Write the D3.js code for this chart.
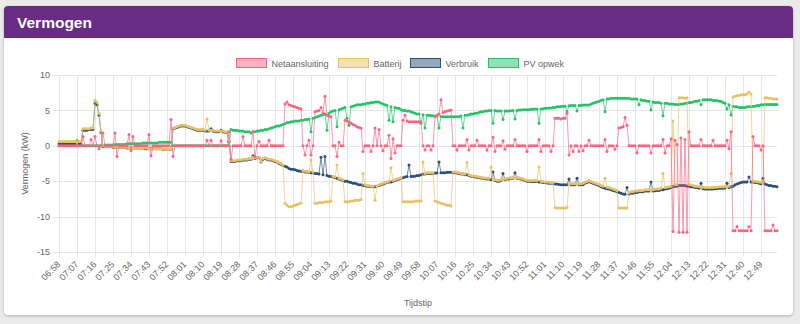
<!DOCTYPE html>
<html>
  <head>
    <meta charset="utf-8" />
    <title>Vermogen</title>
    <style>
      body {
        margin: 0;
        background: #ebebeb;
        font-family: "Liberation Sans", Arial, sans-serif;
      }
      .card {
        position: absolute;
        left: 4px;
        top: 6px;
        width: 789px;
        height: 309px;
        background: #fff;
        border-radius: 4px;
        box-shadow: 0 1px 3px rgba(0, 0, 0, 0.25);
        overflow: hidden;
      }
      .card-header {
        height: 32px;
        background: #682c84;
        color: #fff;
        font-weight: bold;
        font-size: 15.5px;
        line-height: 33px;
        padding-left: 13px;
      }
      svg {
        position: absolute;
        left: 0;
        top: 0;
      }
    </style>
  </head>
  <body>
    <script src="https://cdn.jsdelivr.net/npm/d3@7"></script>

    <div class="card"><div class="card-header">Vermogen</div></div>
    <svg class="canvas"></svg>

    <script>
      // one sample per minute, starting at 06:58
      const startTime = "06:58";
      const tickLabels = [
        "06:58", "07:07", "07:16", "07:25", "07:34", "07:43", "07:52", "08:01",
        "08:10", "08:19", "08:28", "08:37", "08:46", "08:55", "09:04", "09:13",
        "09:22", "09:31", "09:40", "09:49", "09:58", "10:07", "10:16", "10:25",
        "10:34", "10:43", "10:52", "11:01", "11:10", "11:19", "11:28", "11:37",
        "11:46", "11:55", "12:04", "12:13", "12:22", "12:31", "12:40", "12:49",
      ];
      const yTicks = [10, 5, 0, -5, -10, -15];

      const netaansluiting = [
        0,0,0,0,0,0,0,0,0,0,
        0,0,1.3,0,0,0,0.9,0,1.3,0,
        -0.4,0,1.8,0,0,0,0,0,1.8,-1.5,
        0,0,0,0,0,1.6,-0.7,1.3,0,0,
        0,0,0,0,0,1.6,-1.4,0,0,0,
        0,0,0,0,0,0,3.7,-1.5,0,0,
        0,0,0,0,0,0,0,0,0,0,
        0,0,0,0,0.8,0,0.8,0,0,0,
        0,0.7,0,0,0,2.0,-1.9,0,0,0,
        0,0,1.3,0,0,0,0,2.0,-1.5,0,
        0.6,0,0,0,0,0.8,0,0,0,0,
        0,0,0,5.9,6.2,5.8,5.7,5.6,5.5,5.4,
        5.3,5.2,0,-1.3,0,0.8,-1.3,0,4.8,4.9,
        5.0,5.4,4.6,7.0,4.3,4.2,4.1,0,0,-1.5,
        0.5,0,0,3.6,3.5,3.4,3.2,3.0,2.9,2.7,
        2.6,2.5,-0.8,0,0,0,-0.8,0,2.5,0,
        2.3,0,-0.7,0,0,1.5,-1.8,1.0,-1.0,0,
        0,0,3.6,4.3,3.5,3.4,3.4,3.4,3.4,3.4,
        3.4,3.4,0,-0.6,0,0,-0.6,0,4.1,4.3,
        4.5,6.5,4.7,4.8,4.9,5.0,5.05,0,0,-0.6,
        0,0,0,0,0.9,-0.6,0,0,0,0.8,
        0,0,0,0,-0.6,0,0,1.2,-0.8,0,
        0,0,0.7,-0.5,0,0,0,0,0.9,0,
        0,0,0,0,-0.8,0,0,0,0,0,
        0.9,-0.8,0,0,0,0,-0.8,0,3.9,3.9,
        3.9,3.8,3.9,3.9,4.6,-1.3,0,-0.8,0,0,
        -0.8,0,-0.7,0,0,0.8,0,0,0,0,
        0,0,0,0.9,-0.8,0,0,0,-0.5,0,
        2.5,2.6,2.7,4.0,2.9,0,0,0,0,-1.0,
        0,0,0,0,0,0,-1.0,0,0,0,
        0,0,0.9,-1.0,0,0,1.0,-12.1,0.8,0.2,
        -12.2,1.1,-12.2,0.9,-12.2,2.0,0,0,0,0,
        0,0.9,0,0,0,0,0,0.8,0,0,
        0,0,0,0,0.8,-0.4,2.0,-12.0,-12.0,-11.4,
        -12.0,-12.0,-12.0,-12.0,-12.0,-11.4,-12.0,1.3,0,0,
        0,-0.6,0,-12.0,-12.0,-12.0,-12.0,-11.2,-12.0,-12.0,
      ];

      const batterij = [
        0.6,0.6,0.6,0.6,0.6,0.6,0.6,0.6,0.6,0.6,
        0.6,0.6,2.4,2.4,2.4,2.4,2.5,2.5,6.4,6.2,
        4.6,2.1,0.0,-0.1,-0.1,-0.1,-0.1,-0.1,-0.2,-0.2,
        -0.2,-0.2,-0.2,-0.2,-0.2,-0.3,-0.3,-0.3,-0.3,-0.3,
        -0.3,-0.3,-0.3,-0.3,-0.3,-0.4,-0.4,-0.4,-0.4,-0.4,
        -0.4,-0.4,-0.4,-0.5,-0.5,-0.5,-0.5,2.5,2.6,2.7,
        2.8,2.9,2.9,2.9,2.8,2.7,2.6,2.5,2.4,2.3,
        2.3,2.3,2.3,2.2,3.8,2.2,2.2,2.2,2.1,2.1,
        2.1,2.1,2.1,2.0,2.0,0.7,-2.1,-2.1,-2.1,-2.0,
        -2.0,-2.0,-1.9,-1.9,-1.9,-1.8,-1.8,-1.6,-1.7,-1.6,
        -1.6,-2.2,-1.8,-1.7,-1.8,-1.9,-1.9,-2.0,-2.1,-2.2,
        -2.4,-2.5,-2.7,-8.1,-8.4,-8.6,-8.6,-8.5,-8.4,-8.3,
        -8.2,-8.1,-3.5,-3.6,-3.6,-3.65,-2.0,-3.7,-8.1,-8.1,
        -8.0,-8.0,-8.0,-7.9,-7.9,-7.9,-7.8,-4.3,-4.4,-2.7,
        -4.6,-4.7,-4.8,-7.9,-7.9,-7.9,-7.8,-7.8,-7.7,-7.7,
        -7.7,-7.6,-3.9,-5.5,-5.6,-5.6,-5.7,-5.7,-7.7,-5.7,
        -5.5,-5.4,-5.3,-5.2,-5.1,-5.0,-3.1,-4.9,-4.8,-4.7,
        -4.6,-4.5,-7.9,-7.9,-7.9,-7.9,-7.9,-7.9,-7.8,-7.8,
        -7.8,-7.8,-2.3,-3.9,-3.8,-3.8,-3.8,-3.8,-7.8,-7.9,
        -8.0,-8.1,-8.2,-8.3,-8.4,-8.4,-8.5,-3.7,-3.7,-3.75,
        -3.8,-3.9,-3.9,-4.0,-2.35,-4.1,-4.2,-4.25,-4.3,-4.35,
        -4.4,-4.45,-4.5,-4.55,-4.6,-4.6,-3.0,-4.7,-4.8,-4.85,
        -4.85,-4.8,-4.75,-4.7,-4.6,-4.55,-4.5,-4.5,-4.5,-4.5,
        -4.5,-4.6,-4.7,-4.8,-4.85,-4.9,-4.9,-4.9,-4.9,-4.95,
        -3.0,-5.0,-5.05,-5.1,-5.1,-5.15,-5.2,-5.2,-8.7,-8.8,
        -8.8,-8.8,-8.8,-8.8,-8.7,-5.4,-5.35,-5.35,-5.35,-5.35,
        -5.35,-5.35,-5.3,-5.15,-5.05,-4.9,-5.05,-5.15,-5.25,-5.35,
        -5.45,-5.6,-5.7,-4.6,-5.85,-5.9,-6.0,-6.1,-6.2,-6.3,
        -8.8,-8.8,-8.8,-8.8,-8.8,-6.6,-6.5,-6.5,-6.4,-6.4,
        -6.3,-6.3,-6.3,-6.2,-6.2,-6.2,-6.2,-6.2,-6.15,-6.1,
        -6.1,-6.0,-3.9,-5.9,-5.85,-5.8,-5.7,3.5,-5.5,-5.5,
        6.8,6.8,6.8,6.7,6.8,-5.5,-5.5,-5.6,-5.7,-5.7,
        -5.8,-5.8,-5.85,-5.9,-5.9,-5.9,-5.9,-5.9,-5.85,-5.85,
        -5.8,-5.8,-5.8,-5.75,-5.7,-5.7,-3.9,6.9,7.0,7.1,
        7.1,7.2,7.2,7.2,7.3,7.6,7.3,-5.0,-5.0,-5.05,
        -5.1,-5.15,-5.2,6.8,6.8,6.7,6.7,6.6,6.6,6.6,
      ];

      const verbruik = [
        0.3,0.3,0.3,0.3,0.3,0.3,0.3,0.3,0.3,0.7,
        0.3,0.3,2.2,2.2,2.2,2.3,2.3,2.3,6.0,5.8,
        4.3,1.9,-0.1,-0.1,-0.1,-0.1,-0.1,-0.2,-0.2,-0.2,
        -0.2,-0.2,-0.2,-0.2,-0.3,-0.3,-0.3,-0.3,-0.3,-0.3,
        -0.3,-0.3,-0.3,-0.4,-0.4,-0.4,-0.4,-0.4,-0.4,-0.4,
        -0.4,-0.4,-0.5,-0.5,-0.5,-0.5,-0.5,2.4,2.5,2.6,
        2.7,2.8,2.8,2.8,2.7,2.6,2.5,2.4,2.3,2.2,
        2.2,2.2,2.2,2.1,2.1,2.1,2.4,2.1,2.0,2.0,
        2.0,2.2,2.0,1.9,1.9,0.6,-2.2,-2.2,-2.2,-2.1,
        -2.1,-2.1,-2.0,-2.0,-2.0,-1.9,-1.9,-1.4,-1.8,-1.7,
        -1.7,-2.3,-1.9,-1.8,-1.9,-2.0,-2.0,-2.1,-2.2,-2.3,
        -2.5,-2.6,-2.8,-2.9,-3.0,-3.2,-3.3,-3.3,-3.4,-3.5,
        -3.55,-3.6,-3.6,-3.7,-3.7,-3.75,-3.8,-3.8,-3.9,-3.9,
        -4.0,-1.6,-4.1,-1.5,-4.2,-4.3,-4.35,-4.4,-4.5,-4.6,
        -4.7,-4.8,-4.9,-5.0,-5.0,-5.1,-5.2,-5.3,-5.3,-5.4,
        -5.5,-5.5,-5.6,-5.6,-5.7,-5.7,-5.8,-5.8,-5.8,-5.7,
        -5.6,-5.5,-5.4,-5.3,-5.2,-5.1,-5.1,-5.0,-4.9,-4.8,
        -4.7,-4.6,-4.5,-4.4,-4.35,-2.7,-4.35,-4.3,-4.3,-4.2,
        -4.2,-4.1,-4.0,-4.0,-3.9,-3.9,-3.9,-3.9,-3.85,-3.85,
        -2.3,-3.8,-3.8,-3.8,-3.75,-3.75,-3.75,-3.8,-3.8,-3.85,
        -3.9,-4.0,-4.0,-4.1,-4.1,-4.2,-4.3,-4.35,-4.4,-4.45,
        -4.5,-4.55,-4.6,-4.65,-4.7,-4.7,-4.8,-3.7,-4.9,-5.0,
        -5.0,-4.9,-3.9,-4.8,-4.7,-4.7,-4.6,-4.6,-3.8,-4.6,
        -4.6,-4.7,-4.8,-4.9,-5.0,-5.0,-5.05,-5.05,-5.05,-5.05,
        -5.1,-5.1,-5.2,-5.2,-5.25,-5.3,-5.3,-5.3,-5.4,-5.4,
        -5.45,-5.5,-5.5,-5.5,-5.5,-4.7,-5.5,-5.5,-5.5,-4.6,
        -5.5,-5.5,-5.5,-5.3,-5.2,-5.05,-5.2,-5.3,-5.4,-5.5,
        -5.6,-5.8,-5.9,-6.0,-6.05,-6.1,-6.2,-6.3,-6.4,-6.5,
        -6.6,-6.7,-6.8,-6.85,-5.9,-6.8,-6.7,-6.7,-6.6,-6.6,
        -6.5,-6.5,-6.5,-6.4,-6.4,-6.4,-5.1,-6.4,-6.35,-6.3,
        -6.3,-6.2,-6.2,-6.1,-6.05,-6.0,-5.9,-5.8,-5.7,-5.7,
        -5.6,-5.6,-5.6,-5.6,-5.7,-5.7,-5.8,-5.8,-5.9,-5.9,
        -6.0,-5.3,-6.05,-6.1,-6.1,-6.1,-6.1,-6.1,-6.05,-6.05,
        -6.0,-6.0,-6.0,-5.95,-5.3,-5.9,-5.8,-5.7,-5.5,-5.4,
        -5.3,-5.2,-5.1,-5.1,-5.1,-4.4,-5.1,-5.1,-5.2,-5.2,
        -5.3,-5.35,-4.6,-5.4,-5.5,-5.6,-5.6,-5.7,-5.7,-5.8,
      ];

      const pvOpwek = [
        0,0,0,0,0,0,0,0,0,0,
        0,0,0,0,0,0,0,0,0,0,
        0,0,0,0.1,0.1,0.1,0.1,0.1,0.2,0.2,
        0.2,0.2,0.2,0.2,0.3,0.3,0.3,0.3,0.3,0.3,
        0.3,0.3,0.4,0.4,0.4,0.4,0.4,0.4,0.4,0.4,
        0.5,0.5,0.5,0.5,0.5,0.5,0.5,0,0,0,
        0,0,0,0,0,0,0,0,0,0,
        0,0,0,0,0,0,0,0,0,0,
        0,0,0,0,0,0,2.3,2.2,2.2,2.2,
        2.1,2.1,2.1,2.0,2.0,2.0,1.8,2.0,2.0,2.1,
        2.1,2.2,2.2,2.3,2.3,2.4,2.5,2.6,2.7,2.8,
        2.8,2.9,3.0,3.1,3.3,3.3,3.4,3.4,3.5,3.5,
        3.5,3.6,3.6,3.7,3.7,3.8,2.0,3.9,4.0,4.1,
        4.2,4.3,4.4,4.5,2.2,4.6,4.8,4.9,5.0,2.7,
        5.1,5.2,5.3,5.4,3.9,2.9,5.5,5.6,5.7,5.8,
        5.8,5.8,5.9,5.9,6.0,6.0,6.1,6.1,6.2,6.2,
        6.2,6.0,5.9,5.8,5.7,3.6,5.5,3.4,5.4,5.3,
        5.3,5.1,5.0,5.0,4.9,4.9,4.8,4.7,4.6,4.5,
        4.5,3.2,4.4,2.5,4.3,4.3,4.25,4.25,4.2,4.2,
        2.5,4.15,4.1,4.1,4.1,4.1,4.1,4.1,4.1,4.1,
        4.1,4.2,2.5,4.3,4.3,4.4,4.5,4.5,4.6,4.6,
        4.7,4.8,4.8,4.9,4.9,5.0,5.0,3.2,5.0,4.9,
        4.9,4.9,3.7,4.9,4.9,4.9,4.95,5.0,3.8,5.0,
        5.05,5.05,5.1,5.1,5.1,5.1,5.15,5.15,5.2,5.2,
        3.2,5.2,5.25,5.3,5.3,5.35,5.35,5.4,5.4,5.5,
        5.5,5.55,5.6,5.6,4.8,5.65,5.7,5.7,5.7,4.9,
        5.7,5.7,5.75,5.75,5.75,5.75,5.9,6.0,6.1,6.2,
        6.3,6.4,6.5,4.8,6.6,6.6,6.7,6.7,6.7,6.7,
        6.7,6.7,6.7,6.7,6.7,6.7,6.6,6.6,6.6,6.6,
        5.8,6.5,6.4,6.4,6.3,6.3,5.05,6.2,6.1,6.1,
        6.1,6.0,4.25,6.0,6.0,5.9,5.9,5.9,5.85,5.85,
        5.85,5.9,5.9,6.0,6.0,6.1,6.1,6.2,6.3,6.3,
        6.4,5.8,6.5,6.5,6.5,6.5,6.5,6.4,6.4,6.4,
        6.3,6.3,6.1,6.0,5.2,5.8,4.35,5.6,5.5,5.5,
        5.4,5.4,5.4,5.4,5.5,5.5,5.5,5.6,5.6,5.7,
        5.7,5.8,5.8,5.85,5.85,5.85,5.85,5.85,5.85,5.85,
      ];

      const series = [
        { name: "Netaansluiting", values: netaansluiting, color: "255,99,132" },
        { name: "Batterij", values: batterij, color: "232,194,98" },
        { name: "Verbruik", values: verbruik, color: "44,80,118" },
        { name: "PV opwek", values: pvOpwek, color: "34,196,104" },
      ];

      function toMinutes(t) {
        const p = t.split(":");
        return +p[0] * 60 + +p[1];
      }

      const width = 800,
        height = 324,
        plotLeft = 59,
        plotRight = 777,
        plotTop = 75,
        plotBottom = 252,
        grid = "#e6e6e6",
        textColor = "#666";

      const svg = d3.select(".canvas").attr("width", width).attr("height", height);

      const x = d3
        .scaleLinear()
        .domain([0, netaansluiting.length - 1])
        .range([plotLeft, plotRight]);
      const y = d3.scaleLinear().domain([-15, 10]).range([plotBottom, plotTop]);
      const crisp = (v) => Math.round(v) + 0.5;

      //----------------grid + y axis----------------
      svg
        .append("g")
        .selectAll("line")
        .data(yTicks)
        .join("line")
        .attr("x1", plotLeft - 6)
        .attr("x2", plotRight)
        .attr("y1", (d) => crisp(y(d)))
        .attr("y2", (d) => crisp(y(d)))
        .attr("stroke", grid);

      svg
        .append("g")
        .selectAll("text")
        .data(yTicks)
        .join("text")
        .attr("x", plotLeft - 9)
        .attr("y", (d) => y(d))
        .attr("dy", "0.35em")
        .attr("text-anchor", "end")
        .attr("font-size", 9)
        .attr("fill", textColor)
        .text((d) => d);

      //----------------grid + x axis----------------
      const start = toMinutes(startTime);
      svg
        .append("g")
        .selectAll("line")
        .data(tickLabels)
        .join("line")
        .attr("x1", (d) => crisp(x(toMinutes(d) - start)))
        .attr("x2", (d) => crisp(x(toMinutes(d) - start)))
        .attr("y1", plotTop)
        .attr("y2", plotBottom + 5)
        .attr("stroke", grid);

      svg
        .append("g")
        .selectAll("text")
        .data(tickLabels)
        .join("text")
        .attr(
          "transform",
          (d) => `translate(${x(toMinutes(d) - start) + 2},${plotBottom + 13}) rotate(-45)`
        )
        .attr("text-anchor", "end")
        .attr("font-size", 9)
        .attr("fill", textColor)
        .text((d) => d);

      //----------------axis titles----------------
      svg
        .append("text")
        .attr("transform", `translate(28,${(plotTop + plotBottom) / 2}) rotate(-90)`)
        .attr("text-anchor", "middle")
        .attr("font-size", 9)
        .attr("fill", textColor)
        .text("Vermogen (kW)");

      svg
        .append("text")
        .attr("x", (plotLeft + plotRight) / 2)
        .attr("y", 306)
        .attr("text-anchor", "middle")
        .attr("font-size", 9)
        .attr("fill", textColor)
        .text("Tijdstip");

      //----------------lines (first dataset on top)----------------
      const line = d3
        .line()
        .x((d, i) => x(i))
        .y((d) => y(d));

      series
        .slice()
        .reverse()
        .forEach((s) => {
          const g = svg.append("g");
          g.append("path")
            .attr("d", line(s.values))
            .attr("fill", "none")
            .attr("stroke", `rgb(${s.color})`)
            .attr("stroke-opacity", 0.75)
            .attr("stroke-width", 0.9);
          g.selectAll("circle")
            .data(s.values)
            .join("circle")
            .attr("cx", (d, i) => x(i))
            .attr("cy", (d) => y(d))
            .attr("r", 1.5)
            .attr("fill", `rgb(${s.color})`);
        });

      //----------------legend----------------
      const legend = svg.append("g");
      const items = legend.selectAll("g").data(series).join("g");
      items
        .append("text")
        .attr("x", 35.5)
        .attr("y", 66.5)
        .attr("font-size", 9)
        .attr("fill", textColor)
        .text((d) => d.name);
      items
        .append("rect")
        .attr("x", 0.5)
        .attr("y", 58.5)
        .attr("width", 30)
        .attr("height", 9)
        .attr("fill", (d) => `rgba(${d.color},0.5)`)
        .attr("stroke", (d) => `rgb(${d.color})`);

      let offset = 0;
      const offsets = [];
      items.each(function () {
        const w = 35.5 + d3.select(this).select("text").node().getComputedTextLength();
        offsets.push(offset);
        offset += w + 9;
      });
      const total = offset - 9;
      items.attr("transform", (d, i) => `translate(${Math.round(400 - total / 2 + offsets[i])},0)`);
    </script>
  </body>
</html>
